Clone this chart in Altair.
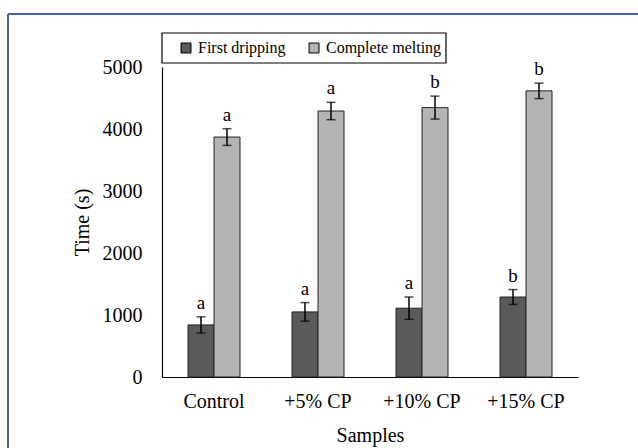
import altair as alt
import pandas as pd

# Melting behaviour of the samples (mean ± SD, seconds)
samples = ["Control", "+5% CP", "+10% CP", "+15% CP"]
series_names = ["First dripping", "Complete melting"]
first_dripping = [840, 1050, 1110, 1290]
first_dripping_sd = [130, 150, 180, 120]
complete_melting = [3870, 4290, 4345, 4615]
complete_melting_sd = [135, 140, 185, 125]
first_letters = ["a", "a", "a", "b"]
complete_letters = ["a", "a", "b", "b"]

rows = []
for i, s in enumerate(samples):
    rows.append(dict(sample=s, series=series_names[0], value=first_dripping[i],
                     sd=first_dripping_sd[i], letter=first_letters[i]))
    rows.append(dict(sample=s, series=series_names[1], value=complete_melting[i],
                     sd=complete_melting_sd[i], letter=complete_letters[i]))
df = pd.DataFrame(rows)
df["lower"] = df["value"] - df["sd"]
df["upper"] = df["value"] + df["sd"]

FONT = "Liberation Serif"
W, H = 416, 310

x_enc = alt.X("sample:N", sort=samples,
              scale=alt.Scale(paddingInner=0.5, paddingOuter=0.25),
              axis=alt.Axis(title="Samples", labelAngle=0, labelPadding=14,
                            titlePadding=14))
xoff = alt.XOffset("series:N", sort=series_names,
                   scale=alt.Scale(paddingInner=0, paddingOuter=0))
y_scale = alt.Scale(domain=[0, 5000], nice=False)

base = alt.Chart(df)

bars = base.mark_bar(stroke="#222222", strokeWidth=1).encode(
    x=x_enc,
    xOffset=xoff,
    y=alt.Y("value:Q", scale=y_scale,
            axis=alt.Axis(title="Time (s)", values=[0, 1000, 2000, 3000, 4000, 5000],
                          format="d", labelPadding=20, titlePadding=10)),
    color=alt.Color("series:N", sort=series_names,
                    scale=alt.Scale(domain=series_names, range=["#5a5a5a", "#b4b4b4"]),
                    legend=alt.Legend(title=None, orient="none", direction="horizontal",
                                      legendX=16, legendY=-27, padding=0,
                                      symbolType="square", symbolSize=100,
                                      symbolStrokeColor="black", symbolStrokeWidth=1,
                                      symbolOpacity=1,
                                      labelFont=FONT, labelFontSize=16, labelColor="black",
                                      labelOffset=4, columnPadding=20)),
)

err = base.mark_rule(color="black", strokeWidth=1.5).encode(
    x=alt.X("sample:N", sort=samples), xOffset=xoff,
    y="lower:Q", y2="upper:Q",
)
cap_hi = base.mark_tick(color="black", size=9, thickness=1.5).encode(
    x=alt.X("sample:N", sort=samples), xOffset=xoff, y="upper:Q",
)
cap_lo = base.mark_tick(color="black", size=9, thickness=1.5).encode(
    x=alt.X("sample:N", sort=samples), xOffset=xoff, y="lower:Q",
)
letters = base.mark_text(font=FONT, fontSize=19, color="black",
                         baseline="alphabetic", dy=-8).encode(
    x=alt.X("sample:N", sort=samples), xOffset=xoff, y="upper:Q", text="letter:N",
)

# legend frame
legend_box = alt.Chart(pd.DataFrame({"k": [0]})).mark_rect(
    fill="white", stroke="black", strokeWidth=1.2
).encode(x=alt.value(0), x2=alt.value(284), y=alt.value(-34), y2=alt.value(-4))

# outer blue frame
frame_top = alt.Chart(pd.DataFrame({"k": [0]})).mark_rule(
    color="#4a5fae", strokeWidth=2
).encode(x=alt.value(-154), x2=alt.value(480), y=alt.value(-53))
frame_left = alt.Chart(pd.DataFrame({"k": [0]})).mark_rule(
    color="#4a5fae", strokeWidth=2
).encode(x=alt.value(-154), y=alt.value(-53), y2=alt.value(390))

chart = alt.layer(
    frame_top, frame_left, legend_box, bars, err, cap_hi, cap_lo, letters
).properties(
    width=W, height=H,
    background="white",
    autosize=alt.AutoSizeParams(type="none"),
    padding={"left": 162, "top": 67, "right": 60, "bottom": 71},
).configure_view(
    stroke=None
).configure_axis(
    grid=False, ticks=False, domainColor="black", domainWidth=1.2,
    labelFont=FONT, labelFontSize=20, labelColor="black",
    titleFont=FONT, titleFontSize=20, titleFontWeight="normal", titleColor="black",
)

chart.save("out.html", embed_options={"renderer": "svg", "actions": False})
